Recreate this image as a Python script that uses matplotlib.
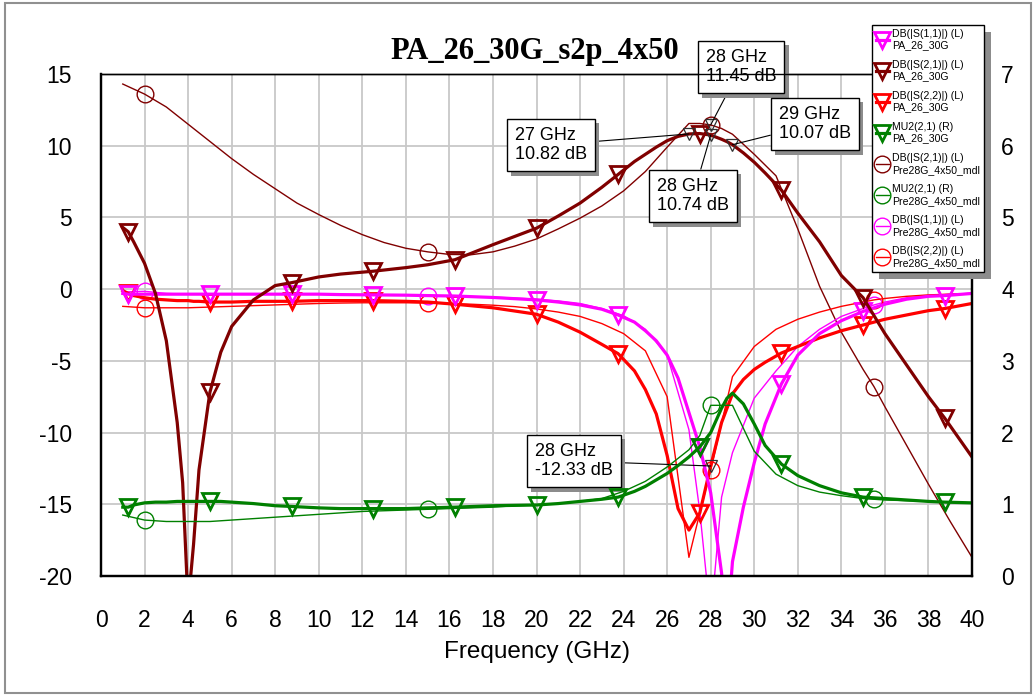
import matplotlib
matplotlib.use('Agg')
import matplotlib.pyplot as plt
import matplotlib.patheffects as pe
from matplotlib.lines import Line2D
from matplotlib.patches import Rectangle

plt.rcParams['font.family'] = ['Liberation Sans', 'DejaVu Sans']
plt.rcParams['axes.unicode_minus'] = False

W, H = 1036, 696

# PA_26_30G (s2p data), dB on left axis, MU2 on right axis
pa_freq = [1, 1.25, 1.5, 2, 2.5, 3, 3.5, 3.75, 4, 4.25, 4.5, 5, 5.5, 6, 7, 8, 8.75, 10, 11, 12.5,
           14, 15, 16.25, 18, 20, 21, 22, 23, 23.75, 24.5, 25, 25.5, 26, 26.5, 27, 27.5, 28, 28.5,
           28.75, 29, 29.5, 30, 30.5, 31.25, 32, 33, 34, 35, 36, 37, 38, 38.75, 40]
pa_s21 = [4.3, 4.0, 3.3, 1.8, -0.3, -3.6, -9.3, -13.5, -22, -17.8, -12.6, -7.2, -4.4, -2.6, -0.75,
          0.25, 0.45, 0.85, 1.05, 1.25, 1.5, 1.7, 2.05, 3.1, 4.25, 5.1, 6.0, 7.1, 8.0, 8.9, 9.4, 9.9,
          10.35, 10.65, 10.82, 10.85, 10.74, 10.45, 10.28, 10.07, 9.5, 8.85, 8.1, 6.9, 5.3, 3.3, 0.95,
          -0.6, -3.1, -5.3, -7.5, -9.0, -11.7]
pa_s11 = [-0.3, -0.35, -0.35, -0.35, -0.35, -0.35, -0.35, -0.35, -0.35, -0.35, -0.35, -0.35, -0.35,
          -0.35, -0.35, -0.35, -0.35, -0.35, -0.38, -0.4, -0.42, -0.45, -0.48, -0.58, -0.75, -0.9,
          -1.1, -1.4, -1.8, -2.3, -2.9, -3.6, -4.6, -6.2, -8.6, -11.0, -14.2, -19.8, -24, -19.0,
          -15.2, -12.1, -9.4, -6.6, -4.6, -3.1, -2.2, -1.55, -1.05, -0.7, -0.5, -0.45, -0.3]
pa_s22 = [-0.1, -0.3, -0.45, -0.6, -0.7, -0.75, -0.8, -0.8, -0.8, -0.85, -0.85, -0.9, -0.9, -0.9,
          -0.85, -0.85, -0.85, -0.8, -0.8, -0.8, -0.85, -0.9, -1.05, -1.3, -1.75, -2.3, -3.0, -3.85,
          -4.5, -5.7, -7.0, -8.7, -11.6, -15.3, -16.8, -15.6, -12.33, -9.3, -8.3, -7.3, -6.3, -5.6,
          -5.1, -4.45, -4.0, -3.4, -2.9, -2.5, -2.1, -1.8, -1.5, -1.35, -1.0]
pa_mu2 = [0.96, 0.96, 0.99, 1.02, 1.03, 1.03, 1.04, 1.04, 1.04, 1.04, 1.04, 1.04, 1.04, 1.03, 1.01,
          0.98, 0.97, 0.95, 0.94, 0.94, 0.94, 0.95, 0.96, 0.98, 0.99, 1.01, 1.04, 1.07, 1.10, 1.18,
          1.25, 1.34, 1.43, 1.54, 1.66, 1.80, 2.00, 2.34, 2.48, 2.55, 2.40, 2.12, 1.82, 1.56, 1.40,
          1.26, 1.16, 1.10, 1.08, 1.06, 1.04, 1.03, 1.02]

# Pre28G_4x50_mdl (model)
mdl_freq = [1, 2, 3, 4, 5, 6, 7, 8, 9, 10, 11, 12, 13, 14, 15, 16, 17, 18, 19, 20, 21, 22, 23, 24,
            25, 26, 27, 27.5, 28, 28.5, 29, 30, 31, 32, 33, 34, 35, 35.5, 36, 37, 38, 39, 40]
mdl_s21 = [14.3, 13.6, 12.7, 11.5, 10.3, 9.1, 8.0, 7.0, 6.0, 5.2, 4.45, 3.8, 3.25, 2.85, 2.6, 2.42,
           2.4, 2.6, 3.0, 3.5, 4.2, 4.95, 5.8, 6.85, 8.2, 9.9, 11.55, 11.55, 11.45, 11.2, 10.8, 9.4,
           7.9, 4.2, 0.2, -3.0, -5.6, -6.8, -8.2, -10.9, -13.6, -16.2, -18.7]
mdl_s11 = [-0.2, -0.15, -0.3, -0.35, -0.35, -0.35, -0.35, -0.35, -0.35, -0.35, -0.38, -0.4, -0.4,
           -0.42, -0.45, -0.48, -0.52, -0.56, -0.62, -0.7, -0.82, -1.0, -1.35, -1.85, -2.8, -4.6,
           -9.8, -15.5, -23, -14.5, -11.4, -7.6, -5.7, -4.0, -2.8, -1.9, -1.35, -1.1, -0.9, -0.6,
           -0.45, -0.35, -0.3]
mdl_s22 = [-1.2, -1.3, -1.3, -1.3, -1.25, -1.2, -1.15, -1.1, -1.05, -1.0, -0.97, -0.95, -0.95, -0.95,
           -0.97, -1.0, -1.05, -1.12, -1.22, -1.38, -1.6, -1.9, -2.4, -3.1, -4.3, -7.5, -18.7, -15.6,
           -12.6, -9.35, -6.1, -4.0, -2.8, -2.1, -1.6, -1.2, -0.9, -0.75, -0.65, -0.5, -0.4, -0.35,
           -0.3]
mdl_mu2 = [0.85, 0.78, 0.76, 0.76, 0.76, 0.78, 0.80, 0.82, 0.84, 0.86, 0.88, 0.90, 0.91, 0.92, 0.93,
           0.94, 0.95, 0.96, 0.98, 0.99, 1.01, 1.04, 1.08, 1.18, 1.32, 1.52, 1.76, 1.96, 2.38, 2.38,
           2.38, 1.74, 1.42, 1.26, 1.17, 1.12, 1.08, 1.07, 1.06, 1.05, 1.04, 1.03, 1.02]

pa_mark_freq = [1.25, 5, 8.75, 12.5, 16.25, 20, 23.75, 27.5, 31.25, 35, 38.75]
mdl_mark_freq = [2, 15, 28, 35.5]

# marker readouts: frequency, value, box centre (figure pixels from top-left)
mk_freq = [27, 28, 28, 29, 28]
mk_db = [10.82, 11.45, 10.74, 10.07, -12.33]
mk_box = [(551, 145), (741, 67), (693, 196), (815, 124), (574, 461)]

MAGENTA, MAROON, RED, GREEN = '#ff00ff', '#800000', '#ff0000', '#008000'

fig = plt.figure(figsize=(W / 100, H / 100), dpi=100)
ax = fig.add_axes([101 / W, 1 - 576 / H, (972 - 101) / W, (576 - 74) / H])
ax2 = ax.twinx()

pa_idx = [pa_freq.index(f) for f in pa_mark_freq]
mdl_idx = [mdl_freq.index(f) for f in mdl_mark_freq]

thick = dict(lw=2.3, marker='v', ms=12, mew=2.0, mfc='none', markevery=pa_idx)
thin = dict(lw=1.0, marker='o', ms=12, mew=1.0, mfc='none', markevery=mdl_idx)

ax.plot(mdl_freq, mdl_s21, color=MAROON, **thin)
ax.plot(mdl_freq, mdl_s11, color=MAGENTA, **thin)
ax.plot(mdl_freq, mdl_s22, color=RED, **thin)
ax.plot(pa_freq, pa_s22, color=RED, **thick)
ax.plot(pa_freq, pa_s11, color=MAGENTA, **thick)
ax.plot(pa_freq, pa_s21, color=MAROON, **thick)
ax2.plot(mdl_freq, mdl_mu2, color=GREEN, **thin)
ax2.plot(pa_freq, pa_mu2, color=GREEN, **thick)

ax.set_xlim(0, 40)
ax.set_ylim(-20, 15)
ax2.set_ylim(0, 7)
ax.set_xticks(range(0, 41, 2))
ax.set_yticks(range(-20, 16, 5))
ax2.set_yticks(range(0, 8))
ax.grid(True, color='#c8c8c8', lw=1.3)
ax.tick_params(length=0, labelsize=16.5)
ax.tick_params(axis='x', pad=24)
ax.tick_params(axis='y', pad=21)
ax2.tick_params(length=0, labelsize=16.5, pad=21)
for a in (ax, ax2):
    for s in a.spines.values():
        s.set_color('black')
        s.set_linewidth(1.6)
    a.spines['top'].set_linewidth(1.0)

# readout markers and boxes
ax.plot(mk_freq, mk_db, ls='none', marker='v', ms=8, mfc='none', mec='#303030', mew=0.9, zorder=6)
for f, v, (bx, by) in zip(mk_freq, mk_db, mk_box):
    ann = ax.annotate('%d GHz\n%.2f dB' % (f, v), xy=(f, v), xytext=(bx, H - by),
                      textcoords='figure pixels', ha='center', va='center', multialignment='left',
                      fontsize=13, annotation_clip=False, zorder=10,
                      bbox=dict(boxstyle='square,pad=0.45', fc='white', ec='black', lw=1.0),
                      arrowprops=dict(arrowstyle='-', color='black', lw=0.8, shrinkA=0, shrinkB=0))
    ann.get_bbox_patch().set_path_effects([pe.withSimplePatchShadow(offset=(3, -3), shadow_rgbFace='#8c8c8c', alpha=1.0)])

fig.text(535 / W, 1 - 59 / H, 'PA_26_30G_s2p_4x50', ha='center', va='baseline',
         family='Liberation Serif', weight='bold', fontsize=22)
fig.text(537 / W, 1 - 652 / H, 'Frequency (GHz)', ha='center', va='center', fontsize=17.5)

# legend
handles = [
    Line2D([], [], color=MAGENTA, lw=2.3, marker='v', ms=12, mew=2.0, mfc='none'),
    Line2D([], [], color=MAROON, lw=2.3, marker='v', ms=12, mew=2.0, mfc='none'),
    Line2D([], [], color=RED, lw=2.3, marker='v', ms=12, mew=2.0, mfc='none'),
    Line2D([], [], color=GREEN, lw=2.3, marker='v', ms=12, mew=2.0, mfc='none'),
    Line2D([], [], color=MAROON, lw=1.0, marker='o', ms=12, mew=1.0, mfc='none'),
    Line2D([], [], color=GREEN, lw=1.0, marker='o', ms=12, mew=1.0, mfc='none'),
    Line2D([], [], color=MAGENTA, lw=1.0, marker='o', ms=12, mew=1.0, mfc='none'),
    Line2D([], [], color=RED, lw=1.0, marker='o', ms=12, mew=1.0, mfc='none'),
]
labels = ['DB(|S(1,1)|) (L)\nPA_26_30G', 'DB(|S(2,1)|) (L)\nPA_26_30G',
          'DB(|S(2,2)|) (L)\nPA_26_30G', 'MU2(2,1) (R)\nPA_26_30G',
          'DB(|S(2,1)|) (L)\nPre28G_4x50_mdl', 'MU2(2,1) (R)\nPre28G_4x50_mdl',
          'DB(|S(1,1)|) (L)\nPre28G_4x50_mdl', 'DB(|S(2,2)|) (L)\nPre28G_4x50_mdl']
leg = fig.legend(handles, labels, loc='upper left', bbox_to_anchor=(872 / W, 1 - 25 / H),
                 fontsize=7.6, frameon=True, fancybox=False, handlelength=1.25,
                 handletextpad=0.3, borderpad=0.35, labelspacing=0.9, borderaxespad=0)
leg.get_frame().set_edgecolor('black')
leg.get_frame().set_linewidth(1.0)
leg.get_frame().set_alpha(1)
fig.canvas.draw()
bb = leg.get_window_extent()
fig.add_artist(Rectangle(((bb.x0 + 7) / W, (bb.y0 - 7) / H), bb.width / W, bb.height / H,
                         transform=fig.transFigure, fc='#8c8c8c', ec='none', zorder=4))

fig.add_artist(Rectangle((5 / W, 3 / H), (1031 - 5) / W, (693 - 3) / H, transform=fig.transFigure,
                         fill=False, ec='#909090', lw=1.5))

fig.savefig('out.png', dpi=100)
